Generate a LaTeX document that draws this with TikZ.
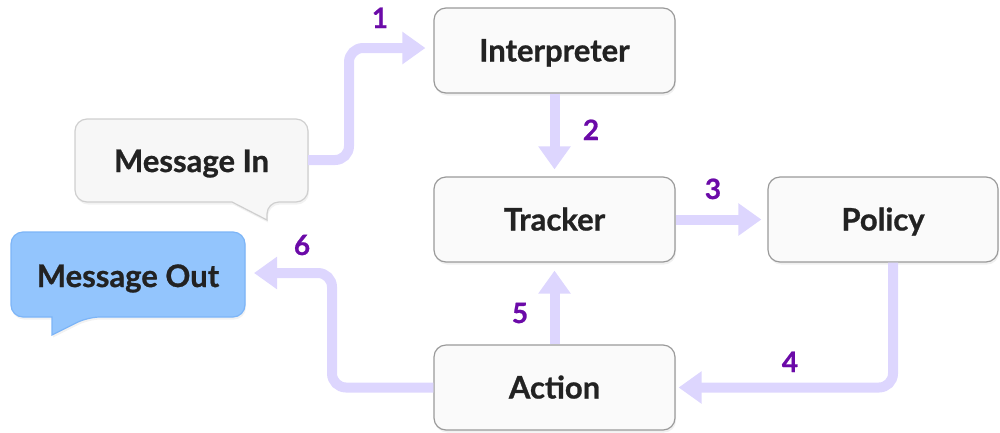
\documentclass[tikz,border=0pt]{standalone}
\usepackage{fontspec}
\setmainfont{Lato}[BoldFeatures={FakeBold=0.8}]
\usetikzlibrary{arrows.meta,shadows,calc}
\definecolor{flow}{HTML}{DDD6FE}
\definecolor{num}{HTML}{6B0AA8}
\definecolor{boxfill}{HTML}{FAFAFA}
\definecolor{boxline}{HTML}{9A9A9A}
\definecolor{infill}{HTML}{F7F7F7}
\definecolor{inline}{HTML}{CFCFCF}
\definecolor{outfill}{HTML}{93C5FD}
\definecolor{outline}{HTML}{7DB5F7}
\definecolor{txt}{HTML}{222222}
\tikzset{
  stepbox/.style={draw=boxline, line width=1.2pt, fill=boxfill, rounded corners=12pt,
    minimum height=85pt, inner sep=0pt, font=\fontsize{31}{36}\selectfont\bfseries, text=txt,
    text height=22pt, text depth=0pt,
    drop shadow={opacity=0.12, shadow xshift=1pt, shadow yshift=-2.5pt}},
  flowarrow/.style={draw=flow, line width=10pt, rounded corners=14pt,
    -{Triangle[length=23pt,width=31pt]}},
  numlabel/.style={font=\fontsize{28}{32}\selectfont\bfseries, text=num,
    text height=20pt, text depth=0pt, inner sep=0pt},
  bubbletext/.style={font=\fontsize{31}{36}\selectfont\bfseries, text=txt, inner sep=0pt,
    text height=22pt, text depth=0pt}
}
\begin{document}
\begin{tikzpicture}[x=1pt,y=-1pt]
\useasboundingbox (0,0) rectangle (1000,432);
% bubbles
\draw[draw=inline, line width=1.2pt, fill=infill,
  drop shadow={opacity=0.10, shadow xshift=1pt, shadow yshift=-2.5pt}]
  (75,160) [rounded corners=12pt] -- (75,119) -- (308,119) -- (308,202) -- (267,202)
  [sharp corners] -- (267,220) -- (232,202) [rounded corners=12pt] -- (75,202) -- cycle;
\node[bubbletext] (msgin) at (191.5,161) {Message In};
\coordinate (msginE) at (308,160);
\draw[draw=outline, line width=1.2pt, fill=outfill,
  drop shadow={opacity=0.10, shadow xshift=1pt, shadow yshift=-2.5pt}]
  (11,274) [rounded corners=12pt] -- (11,232) -- (245,232) -- (245,317) -- (88,317)
  [sharp corners] -- (52,335) -- (52,317) [rounded corners=12pt] -- (11,317) -- cycle;
\node[bubbletext] (msgout) at (128,276) {Message Out};
\coordinate (msgoutE) at (245,273);
% boxes
\node[stepbox, minimum width=241pt] (interp) at (554.5,50.5) {Interpreter};
\node[stepbox, minimum width=241pt] (tracker) at (554.5,219.5) {Tracker};
\node[stepbox, minimum width=230pt] (policy) at (883,219.5) {Policy};
\node[stepbox, minimum width=241pt] (action) at (554.5,387.5) {Action};
% arrows
\draw[flowarrow, shorten >=8pt] (msginE) -- (349,160) -- (349,48) -- (interp.west |- 0,48);
\draw[flowarrow, shorten >=7pt] (interp.south) -- (tracker.north);
\draw[flowarrow, shorten >=6pt] (tracker.east) -- (policy.west);
\draw[flowarrow, shorten >=3pt] ($(policy.south)+(10,0)$) -- (893,387.5) -- (action.east);
\draw[flowarrow, shorten >=8pt] (action.north) -- (tracker.south);
\draw[flowarrow, shorten >=9pt] (action.west) -- (332,387.5) -- (332,273) -- (msgoutE);
% labels
\node[numlabel] (n1) at (380,18) {1};
\node[numlabel] (n2) at (591,130) {2};
\node[numlabel] (n3) at (713,189) {3};
\node[numlabel] (n4) at (790,362) {4};
\node[numlabel] (n5) at (520,313) {5};
\node[numlabel] (n6) at (302,245) {6};
\end{tikzpicture}
\end{document}
